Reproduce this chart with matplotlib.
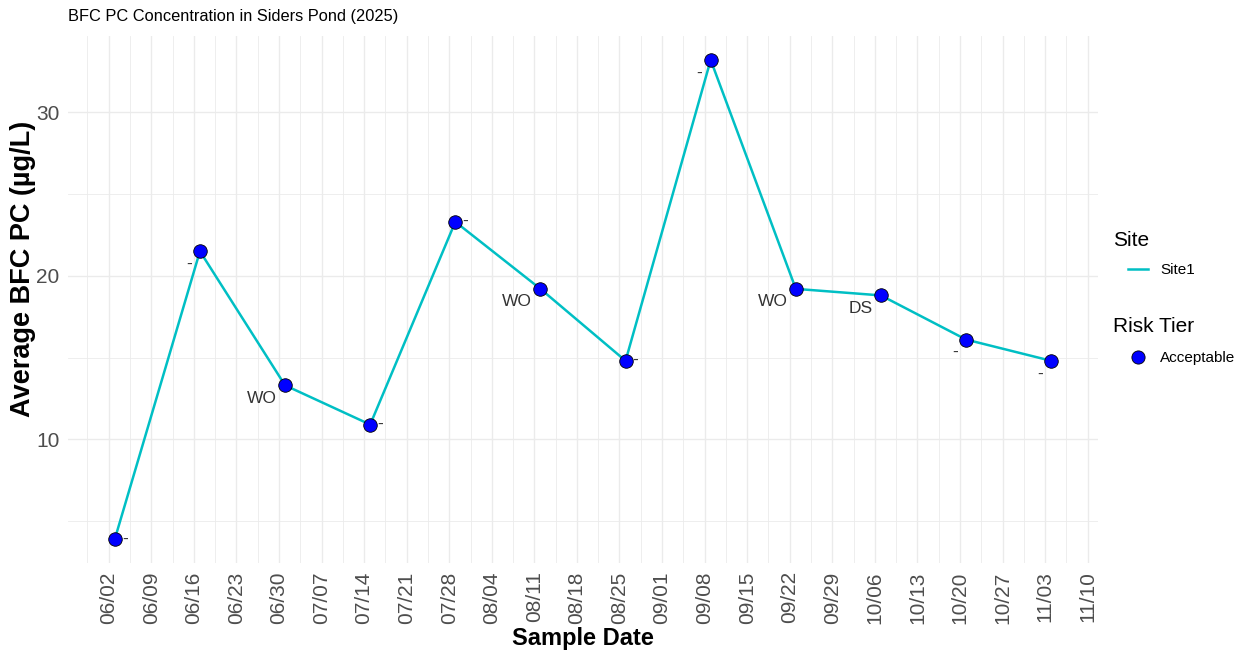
import numpy as np
import matplotlib
matplotlib.use("Agg")
import matplotlib.pyplot as plt
import matplotlib.dates as mdates
from matplotlib.lines import Line2D

plt.rcParams['font.family'] = ['Liberation Sans', 'DejaVu Sans']

# data
sample_dates = ['2025-06-03', '2025-06-17', '2025-07-01', '2025-07-15', '2025-07-29', '2025-08-12',
                '2025-08-26', '2025-09-09', '2025-09-23', '2025-10-07', '2025-10-21', '2025-11-04']
avg_pc = [3.9, 21.5, 13.3, 10.9, 23.3, 19.2, 14.8, 33.2, 19.2, 18.8, 16.1, 14.8]
point_labels = ['-', '-', 'WO', '-', '-', 'WO', '-', '-', 'WO', 'DS', '-', '-']
# which side the label sits on (r = right of point, l = below-left)
label_side = ['r', 'l', 'l', 'r', 'r', 'l', 'r', 'l', 'l', 'l', 'l', 'l']

dates = np.array(sample_dates, dtype='datetime64[D]')

W, H = 1242, 653
fig = plt.figure(figsize=(W / 100, H / 100), dpi=100)
ax = fig.add_axes([68 / W, 1 - 563 / H, (1098 - 68) / W, (563 - 36) / H])

ax.plot(dates, avg_pc, color='#00BFC4', lw=1.8, zorder=2)
ax.scatter(dates, avg_pc, s=95, facecolor='#0000FF', edgecolor='black', linewidth=0.6, zorder=3)

for d, v, lab, side in zip(dates, avg_pc, point_labels, label_side):
    if side == 'r':
        ax.annotate(lab, (d, v), xytext=(5, 0), textcoords='offset points',
                    ha='left', va='center', fontsize=12.5, color='#333333', zorder=4)
    else:
        ax.annotate(lab, (d, v), xytext=(-6, -4), textcoords='offset points',
                    ha='right', va='top', fontsize=12.5, color='#333333', zorder=4)

ax.margins(x=0.05, y=0.05)

# weekly ticks on Mondays, minor grid halfway between
ax.xaxis.set_major_locator(mdates.WeekdayLocator(byweekday=mdates.MO))
ax.xaxis.set_major_formatter(mdates.DateFormatter('%m/%d'))
lo, hi = ax.get_xlim()
majors = list(ax.get_xticks())
minors = [t + 3.5 for t in majors] + [majors[0] - 3.5]
ax.set_xticks([m for m in minors if lo <= m <= hi], minor=True)
ax.set_yticks([10, 20, 30])
ax.set_yticks([5, 15, 25], minor=True)

ax.grid(True, which='major', color='#EBEBEB', lw=1.0)
ax.grid(True, which='minor', color='#EBEBEB', lw=0.6)
ax.set_axisbelow(True)
for s in ax.spines.values():
    s.set_visible(False)
ax.tick_params(which='both', length=0)
ax.tick_params(axis='x', labelrotation=90, labelsize=15, labelcolor='#4D4D4D', pad=6)
ax.tick_params(axis='y', labelsize=15, labelcolor='#4D4D4D', pad=6)

ax.set_xlabel('Sample Date', fontsize=17, fontweight='bold', labelpad=2)
ax.set_ylabel('Average BFC PC (µg/L)', fontsize=19.5, fontweight='bold')
ax.yaxis.set_label_coords(-0.031, 0.558)
fig.text(68 / W, 1 - 17 / H, 'BFC PC Concentration in Siders Pond (2025)',
         fontsize=11.8, ha='left', va='center')

# legends
fig.text(1113 / W, 1 - 241 / H, 'Site', fontsize=15, ha='left', va='center')
fig.text(1113 / W, 1 - 327 / H, 'Risk Tier', fontsize=15, ha='left', va='center')
site_leg = ax.legend(handles=[Line2D([], [], color='#00BFC4', lw=1.8)], labels=['Site1'],
                     loc='center left', bbox_to_anchor=(1128 / W, 1 - 270 / H),
                     bbox_transform=fig.transFigure, frameon=False, fontsize=11,
                     borderpad=0, borderaxespad=0, handlelength=1.3, handletextpad=0.8)
ax.add_artist(site_leg)
ax.legend(handles=[Line2D([], [], ls='', marker='o', markersize=9.5, markerfacecolor='#0000FF',
                          markeredgecolor='black', markeredgewidth=0.6)], labels=['Acceptable'],
          loc='center left', bbox_to_anchor=(1128 / W, 1 - 358 / H),
          bbox_transform=fig.transFigure, frameon=False, fontsize=11,
          borderpad=0, borderaxespad=0, handlelength=1.3, handletextpad=0.8)

fig.savefig('out.png', dpi=100)
